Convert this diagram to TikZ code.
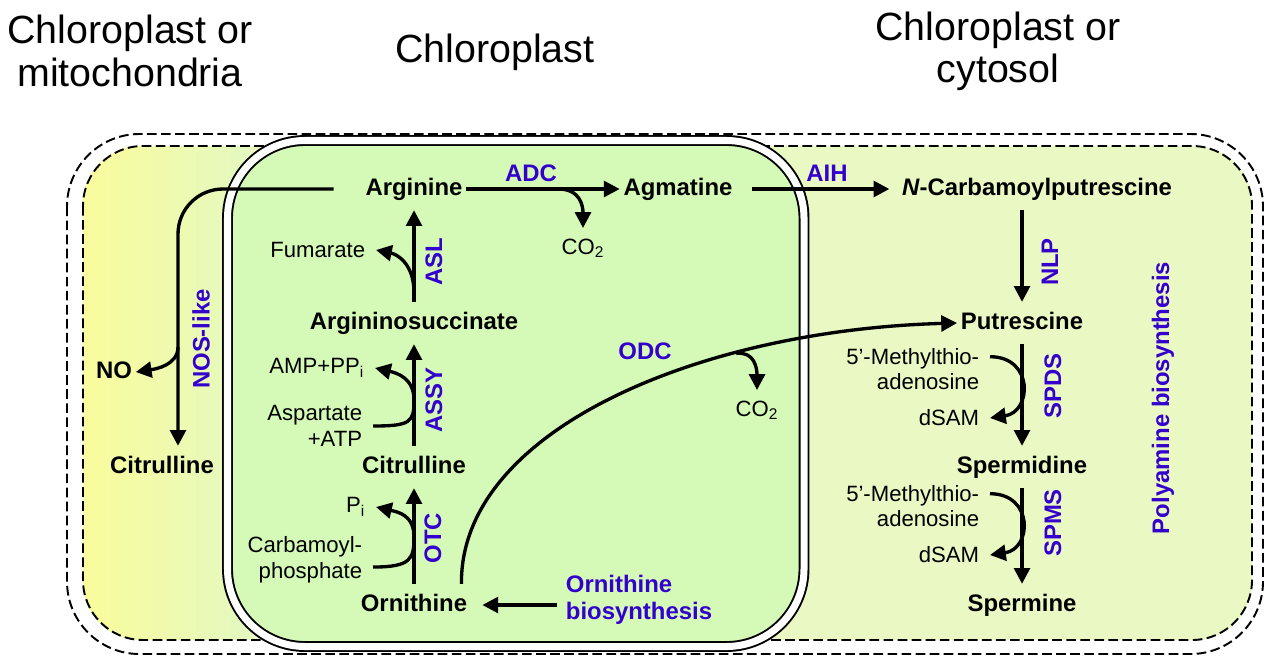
\documentclass[tikz,border=0pt]{standalone}
\usepackage{fontspec}
\setmainfont{Liberation Sans}
\usetikzlibrary{arrows.meta}

\definecolor{enzblue}{RGB}{51,0,204}
\definecolor{plastgreen}{RGB}{213,249,182}
\definecolor{cytgreen}{RGB}{234,248,196}
\definecolor{mitoyellow}{RGB}{250,252,156}

\tikzset{
  metab/.style={font=\fontsize{13.6}{16}\selectfont\bfseries, inner xsep=2pt, inner ysep=5.5pt, text height=9.8pt, text depth=2.9pt},
  enz/.style={font=\fontsize{13.6}{15.3}\selectfont\bfseries, text=enzblue, inner sep=1pt},
  sidetext/.style={font=\fontsize{12.6}{14.7}\selectfont, inner xsep=6pt, inner ysep=6pt},
  regiontitle/.style={font=\fontsize{22.4}{24}\selectfont, align=center},
  rx/.style={-{Triangle[length=9pt,width=9pt]}, line width=1.9pt},
  membrane/.style={line width=1.1pt, dash pattern=on 5.5pt off 2.5pt},
}

\begin{document}
\begin{tikzpicture}[x=0.02cm, y=-0.02cm]
\useasboundingbox (0,0) rectangle (1273,660);

% compartments
\begin{scope}
\clip[rounded corners=1.15cm] (83,146) rectangle (1252,640);
\fill[cytgreen] (83,146) rectangle (1252,640);
\shade[left color=mitoyellow, right color=cytgreen!70!plastgreen] (83,146) rectangle (250,640);
\end{scope}
\draw[membrane, rounded corners=1.45cm] (67,134) rectangle (1263,654);
\draw[membrane, rounded corners=1.2cm] (83,146) rectangle (1252,640);
\draw[line width=1.1pt, double=white, double distance=4pt, fill=plastgreen, rounded corners=1.55cm] (227.5,140.5) rectangle (804,646.5);

% titles
\node[regiontitle] (tmito) at (130,51) {Chloroplast or\\mitochondria};
\node[regiontitle] (tplast) at (495,52) {Chloroplast};
\node[regiontitle] (tcyto) at (998,51) {Chloroplast or\\cytosol};

% metabolites
\node[metab] (arg) at (414,189) {Arginine};
\node[metab] (agm) at (678,189) {Agmatine};
\node[metab] (ncp) at (1037,189) {\textit{N}-Carbamoylputrescine};
\node[metab] (put) at (1022,323) {Putrescine};
\node[metab] (spd) at (1022,467) {Spermidine};
\node[metab] (spm) at (1022,605) {Spermine};
\node[metab] (asuc) at (414,323) {Argininosuccinate};
\node[metab] (cit) at (414,467) {Citrulline};
\node[metab] (orn) at (414,605) {Ornithine};
\node[metab] (citm) at (162,467) {Citrulline};
\node[metab] (no) at (114,372) {NO};

% co-substrates and side products
\node[sidetext, anchor=east] (fum) at (376,250) {Fumarate};
\node[sidetext, anchor=north] (co2a) at (583,228) {CO\textsubscript{2}};
\node[sidetext, anchor=east] (amp) at (375,368) {AMP+PP\textsubscript{i}};
\node[sidetext, anchor=east, align=right] (asp) at (373,426) {Aspartate\\+ATP};
\node[sidetext, anchor=east] (pi) at (376,507) {P\textsubscript{i}};
\node[sidetext, anchor=east, align=right] (cbp) at (373,560) {Carbamoyl-\\phosphate};
\node[sidetext, anchor=north] (co2b) at (757,390) {CO\textsubscript{2}};
\node[sidetext, anchor=east, align=right] (mta1) at (990,369) {5'-Methylthio-\\adenosine};
\node[sidetext, anchor=east] (dsam1) at (990,418) {dSAM};
\node[sidetext, anchor=east, align=right] (mta2) at (990,506) {5'-Methylthio-\\adenosine};
\node[sidetext, anchor=east] (dsam2) at (990,555) {dSAM};

% enzymes
\node[enz] (adc) at (531,173) {ADC};
\node[enz] (aih) at (827,173) {AIH};
\node[enz, rotate=90] (nlp) at (1050,262) {NLP};
\node[enz, rotate=90] (spds) at (1053,386) {SPDS};
\node[enz, rotate=90] (spms) at (1053,523) {SPMS};
\node[enz, rotate=90] (asl) at (434,262) {ASL};
\node[enz, rotate=90] (assy) at (434,400) {ASSY};
\node[enz, rotate=90] (otc) at (433,538) {OTC};
\node[enz, rotate=90] (nos) at (201,339) {NOS-like};
\node[enz] (odc) at (645,351) {ODC};
\node[enz, align=left] (ornbio) at (639,600) {Ornithine\\biosynthesis};
\node[enz, rotate=90] (polyam) at (1163,398) {Polyamine biosynthesis};

% polyamine route
\draw[rx] (arg.east) -- coordinate[pos=0.6] (adcb) (agm.west);
\draw[rx] (adcb) .. controls +(22,0) and +(0,-22) .. (co2a.north);
\draw[rx] ([xshift=9pt]agm.east) -- ([xshift=-5pt]ncp.west);
\draw[rx] (put.north |- ncp.south) -- (put.north);
\draw[rx] (put.south) -- (spd.north);
\draw[rx] ([yshift=7pt]mta1.east) .. controls +(44,0) and +(42,-6) .. (dsam1.east);
\draw[rx] (spd.south) -- (spm.north);
\draw[rx] ([yshift=7pt]mta2.east) .. controls +(44,0) and +(42,-6) .. (dsam2.east);

% arginine route
\draw[rx] (orn.north) -- coordinate[pos=0.49] (otcb) (cit.south);
\draw[rx] ([yshift=-4pt]cbp.east) .. controls +(38,0) and +(0,22) .. (otcb) .. controls +(0,-22) and +(22,5) .. (pi.east);
\draw[rx] (cit.north) -- coordinate[pos=0.45] (assyb) (asuc.south);
\draw[rx] (asp.east) .. controls +(38,0) and +(0,22) .. (assyb) .. controls +(0,-22) and +(22,5) .. (amp.east);
\draw[rx] (asuc.north) -- coordinate[pos=0.1] (aslb) (arg.south);
\draw[rx] (aslb) .. controls +(0,-30) and +(20,4) .. (fum.east);
\draw[rx] ([xshift=-4pt]ornbio.west |- orn.east) -- ([xshift=6.5pt]orn.east);
\draw[rx] ([xshift=27pt]orn.north) .. controls (460,430) and (700,330) .. coordinate[pos=0.7] (odcb) (put.west);
\draw[rx] (odcb) .. controls +(18,-2) and +(0,-22) .. (co2b.north);

% NO route
\coordinate (nosx) at (178,0);
\coordinate (nob) at (178,347);
\draw[rx, rounded corners=0.9cm] ([xshift=-16pt]arg.west) -| (nosx |- citm.north);
\draw[rx] (nob) .. controls +(0,18) and +(20,-3) .. (no.east);
\end{tikzpicture}
\end{document}
